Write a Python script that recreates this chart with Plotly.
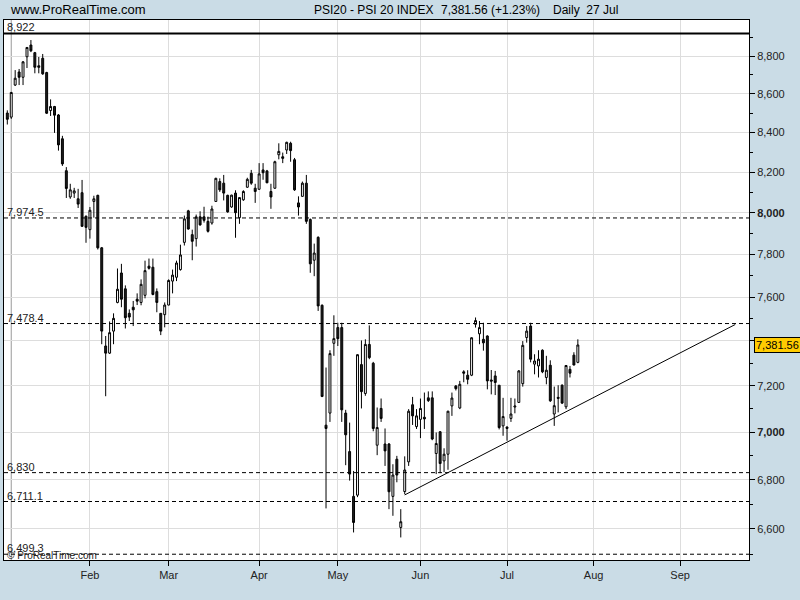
import numpy as np
import pandas as pd
import plotly.graph_objects as go

# ---------------- data ----------------
holidays = ["2010-01-01", "2010-04-02", "2010-04-05"]

opens = [8500, 8479, 8646, 8715, 8687, 8796, 8859, 8818, 8748, 8788,
         8712, 8513, 8534, 8490, 8368, 8207, 8077, 8096, 8068, 8098,
         7983, 7918, 8055, 8085, 7831, 7377, 7345, 7444, 7575, 7712,
         7638, 7525, 7553, 7590, 7575, 7608, 7744, 7739, 7625, 7525,
         7519, 7563, 7674, 7692, 7728, 7857, 8009, 7894, 7875, 7980,
         7980, 7958, 7950, 8055, 8153, 8145, 8085, 8028, 8096, 7976,
         8063, 8125, 8194, 8120, 8115, 8211, 8206, 8104, 8120, 8287,
         8277, 8311, 8345, 8262, 8048, 8080, 8145, 7967, 7772, 7881,
         7562, 7030, 7082, 7389, 7460, 7460, 7082, 6918, 6732, 6737,
         7294, 7167, 7384, 7300, 6945, 7102, 6950, 6950, 6732, 6886,
         6606, 6752, 6875, 7118, 7024, 7055, 7064, 7148, 7148, 6910,
         7002, 6879, 6907, 7113, 7200, 7104, 7262, 7247, 7247, 7475,
         7432, 7407, 7422, 7226, 7244, 7203, 7027, 7022, 7059, 7108,
         7128, 7210, 7415, 7467, 7296, 7288, 7358, 7237, 7291, 7078,
         7150, 7203, 7109, 7273, 7336, 7304]
highs = [8514, 8610, 8725, 8731, 8773, 8848, 8886, 8822, 8795, 8811,
         8716, 8571, 8537, 8495, 8383, 8225, 8142, 8122, 8117, 8161,
         7986, 8028, 8083, 8088, 7835, 7422, 7488, 7525, 7733, 7755,
         7654, 7543, 7582, 7617, 7682, 7770, 7780, 7780, 7640, 7525,
         7575, 7682, 7728, 7770, 7846, 7986, 8014, 7918, 7991, 8007,
         8029, 7981, 8034, 8172, 8169, 8186, 8088, 8088, 8110, 8074,
         8110, 8172, 8211, 8142, 8245, 8245, 8211, 8142, 8257, 8345,
         8298, 8353, 8353, 8271, 8080, 8153, 8186, 7972, 7851, 7886,
         7566, 7281, 7358, 7516, 7482, 7482, 7096, 7041, 6837, 7340,
         7402, 7407, 7470, 7306, 7106, 7145, 7016, 6954, 6865, 6900,
         6680, 6898, 7099, 7152, 7099, 7145, 7171, 7176, 7176, 6999,
         7005, 6932, 7092, 7171, 7203, 7222, 7269, 7269, 7416, 7506,
         7490, 7482, 7425, 7270, 7266, 7203, 7148, 7025, 7148, 7145,
         7270, 7399, 7467, 7482, 7340, 7358, 7362, 7333, 7313, 7197,
         7203, 7207, 7291, 7288, 7349, 7407]
lows = [8441, 8470, 8641, 8646, 8646, 8736, 8821, 8708, 8708, 8700,
        8495, 8485, 8398, 8308, 8231, 8072, 8068, 8072, 8023, 7932,
        7855, 7875, 7976, 7823, 7385, 7155, 7341, 7385, 7571, 7553,
        7456, 7490, 7467, 7563, 7562, 7594, 7728, 7608, 7530, 7426,
        7461, 7562, 7617, 7674, 7723, 7842, 7918, 7772, 7837, 7937,
        7952, 7904, 7942, 8053, 8102, 8060, 8000, 8024, 7879, 7946,
        8058, 8122, 8137, 8048, 8112, 8162, 8145, 8019, 8117, 8264,
        8245, 8291, 8252, 8107, 7986, 8078, 7946, 7713, 7697, 7536,
        7151, 6683, 7044, 7333, 7377, 7044, 6861, 6797, 6586, 6729,
        7102, 7157, 7318, 7004, 6903, 7044, 6858, 6680, 6653, 6790,
        6566, 6741, 6858, 7031, 7014, 6975, 7014, 7130, 6966, 6824,
        6828, 6832, 6842, 7070, 7180, 7099, 7216, 7207, 7243, 7460,
        7385, 7356, 7185, 7163, 7160, 7012, 6985, 6964, 7044, 7081,
        7126, 7197, 7392, 7304, 7251, 7237, 7256, 7207, 7130, 7027,
        7085, 7121, 7099, 7237, 7291, 7300]
closes = [8468, 8607, 8682, 8687, 8769, 8846, 8828, 8740, 8740, 8705,
          8499, 8534, 8489, 8337, 8241, 8119, 8112, 8107, 8042, 7934,
          7929, 8012, 8068, 7831, 7444, 7345, 7437, 7502, 7636, 7590,
          7505, 7508, 7541, 7581, 7659, 7723, 7734, 7612, 7575, 7444,
          7563, 7677, 7702, 7759, 7797, 7970, 7921, 7862, 7980, 7941,
          7963, 7910, 8018, 8169, 8112, 8096, 8004, 8086, 8000, 8074,
          8104, 8164, 8145, 8104, 8191, 8197, 8147, 8077, 8252, 8304,
          8269, 8350, 8308, 8112, 8028, 8145, 7958, 7755, 7806, 7559,
          7154, 7016, 7343, 7410, 7410, 7096, 6989, 6824, 6626, 7338,
          7175, 7384, 7325, 7016, 7020, 7059, 6921, 6751, 6820, 6820,
          6629, 6841, 7090, 7070, 7070, 7102, 7057, 7136, 6971, 6952,
          6868, 6907, 7090, 7147, 7188, 7207, 7256, 7229, 7414, 7492,
          7460, 7391, 7222, 7221, 7215, 7020, 7067, 7016, 7078, 7112,
          7266, 7380, 7444, 7318, 7310, 7318, 7262, 7269, 7135, 7114,
          7146, 7125, 7290, 7256, 7292, 7381.56]

levels = [8922, 7974.5, 7478.4, 6830, 6711.1, 6499.3]
level_labels = ["8,922", "7,974.5", "7,478.4", "6,830", "6,711.1", "6,499.3"]

trend_dates = ["2010-05-26 12:00", "2010-09-21 12:00"]
trend_values = [6738, 7474]

month_dates = ["2010-02-01", "2010-03-01", "2010-04-01", "2010-05-03",
               "2010-06-01", "2010-07-01", "2010-08-02", "2010-09-01"]
month_labels = ["Feb", "Mar", "Apr", "May", "Jun", "Jul", "Aug", "Sep"]

y_ticks = [6600, 6800, 7000, 7200, 7400, 7600, 7800, 8000, 8200, 8400, 8600, 8800]
y_ticktext = ["6,600", "6,800", "<b>7,000</b>", "7,200", "", "7,600", "7,800",
              "<b>8,000</b>", "8,200", "8,400", "8,600", "8,800"]
y_minor = [6500, 6700, 6900, 7100, 7300, 7500, 7700, 7900, 8100, 8300, 8500, 8700, 8900]

last_price = 7381.56
year_start = "2010-01-04 12:00"

# ---------------- build ----------------
dates = pd.bdate_range("2009-12-31", "2010-07-27")
dates = dates[~dates.isin(pd.to_datetime(holidays))] + pd.Timedelta(hours=12)
x_start = pd.Timestamp("2009-12-30 15:50")
x_end = pd.Timestamp("2010-09-24 23:59")
y_lo, y_hi = 6476.5, 8995

BG = "#CADCE6"
SANS = "Liberation Sans, Arial, sans-serif"

fig = go.Figure()

for lv in levels:
    solid = lv == levels[0]
    fig.add_trace(go.Scatter(
        x=[x_start, x_end], y=[lv, lv], mode="lines",
        line=dict(color="black", width=2 if solid else 1,
                  dash="solid" if solid else "4px,3px"),
        hoverinfo="skip", showlegend=False))

fig.add_trace(go.Scatter(
    x=pd.to_datetime(trend_dates), y=trend_values, mode="lines",
    line=dict(color="black", width=1), hoverinfo="skip", showlegend=False))

fig.add_trace(go.Candlestick(
    x=dates, open=opens, high=highs, low=lows, close=closes,
    increasing=dict(line=dict(color="black", width=1), fillcolor="white"),
    decreasing=dict(line=dict(color="black", width=1), fillcolor="#1e1e1e"),
    whiskerwidth=0, showlegend=False))

fig.add_shape(type="line", xref="x", yref="paper",
              x0=pd.Timestamp(year_start), x1=pd.Timestamp(year_start), y0=0, y1=1,
              line=dict(color="#9a9a9a", width=1), layer="below")

annotations = []
for lv, lab in zip(levels, level_labels):
    annotations.append(dict(
        xref="paper", yref="y", x=0, y=np.log10(lv), xanchor="left", yanchor="bottom",
        xshift=1, yshift=-2, text=lab, showarrow=False,
        font=dict(family=SANS, size=11, color="#222222")))
annotations.append(dict(
    xref="paper", yref="paper", x=0, y=(560 - 555) / 540, xanchor="left", yanchor="middle",
    xshift=1, text="© ProRealTime.com", showarrow=False,
    font=dict(family=SANS, size=10, color="#222222")))
annotations.append(dict(
    xref="paper", yref="y", x=1, y=np.log10(last_price), xanchor="left", yanchor="middle",
    xshift=5, text=f"{last_price:,.2f}", showarrow=False, bgcolor="#FFCC00",
    bordercolor="black", borderwidth=1, borderpad=1,
    font=dict(family=SANS, size=11, color="black")))


def px2paper_x(px):
    return (px - 4) / 745


def px2paper_y(py):
    return (560 - py) / 540


HEAD = dict(family=SANS, size=12, color="black")
annotations += [
    dict(xref="paper", yref="paper", x=px2paper_x(8), y=px2paper_y(10), xanchor="left",
         yanchor="middle", text="www.ProRealTime.com", showarrow=False,
         font=dict(family=SANS, size=13, color="black")),
    dict(xref="paper", yref="paper", x=px2paper_x(312), y=px2paper_y(10), xanchor="left",
         yanchor="middle", text="PSI20 - PSI 20 INDEX", showarrow=False, font=HEAD),
    dict(xref="paper", yref="paper", x=px2paper_x(439), y=px2paper_y(10), xanchor="left",
         yanchor="middle", text="7,381.56 (+1.23%)", showarrow=False, font=HEAD),
    dict(xref="paper", yref="paper", x=px2paper_x(551), y=px2paper_y(10), xanchor="left",
         yanchor="middle", text="Daily  27 Jul", showarrow=False, font=HEAD),
]

fig.update_layout(
    width=800, height=600,
    margin=dict(l=4, r=51, t=20, b=40, autoexpand=False),
    paper_bgcolor=BG, plot_bgcolor="white",
    showlegend=False,
    annotations=annotations,
    xaxis=dict(
        type="date", range=[x_start, x_end],
        rangebreaks=[dict(bounds=["sat", "mon"]), dict(values=holidays)],
        rangeslider=dict(visible=False),
        tickvals=[pd.Timestamp(d) + pd.Timedelta(hours=12) for d in month_dates],
        ticktext=month_labels,
        ticks="outside", ticklen=5, tickcolor="black",
        showgrid=True, gridcolor="#DDDDDD", gridwidth=1,
        showline=True, linecolor="black", linewidth=1, mirror=True,
        tickfont=dict(family=SANS, size=11, color="#222222"),
        zeroline=False, automargin=False,
    ),
    yaxis=dict(
        type="log", side="right",
        range=[np.log10(y_lo), np.log10(y_hi)],
        tickvals=y_ticks, ticktext=y_ticktext,
        ticks="outside", ticklen=5, tickcolor="black",
        minor=dict(tickvals=y_minor, ticks="outside", ticklen=3, tickcolor="black",
                   showgrid=False),
        showgrid=True, gridcolor="#DDDDDD", gridwidth=1,
        showline=True, linecolor="black", linewidth=1, mirror=True,
        tickfont=dict(family=SANS, size=11, color="#222222"),
        zeroline=False, automargin=False,
    ),
)

fig.write_html("out.html",
               config={"displayModeBar": False},
               post_script="document.body.style.margin='0';"
                           "document.body.style.background='" + BG + "';")
